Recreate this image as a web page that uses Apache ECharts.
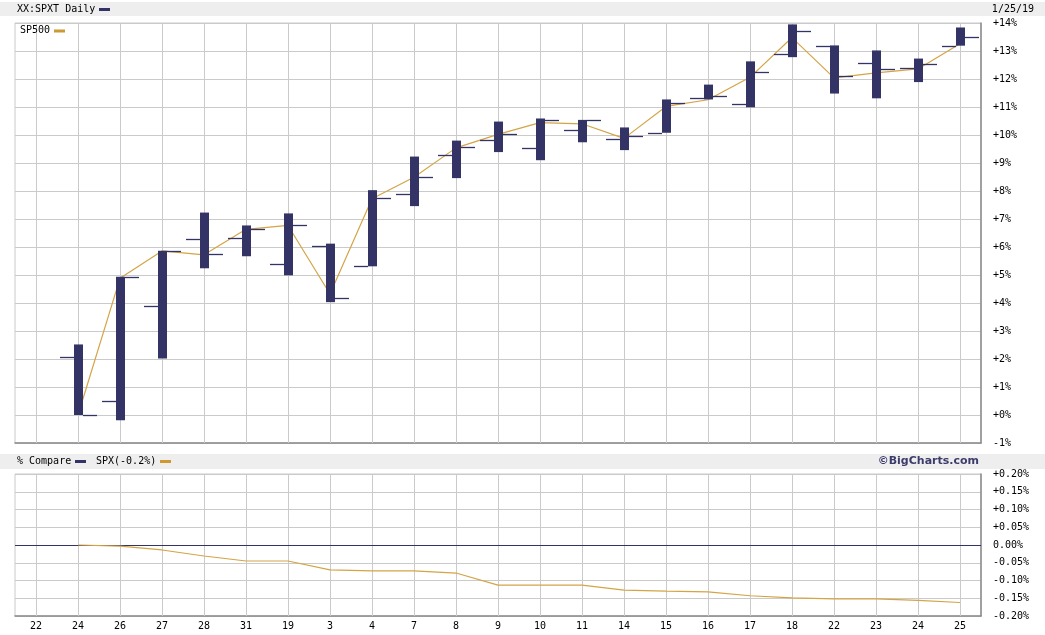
<!DOCTYPE html>
<html>
<head>
<meta charset="utf-8">
<script src="https://cdn.jsdelivr.net/npm/echarts@6/dist/echarts.min.js"></script>
<style>
html,body{margin:0;padding:0;background:#fff;}
#chart{width:1045px;height:635px;}
</style>
</head>
<body>
<div id="chart"></div>
<script>
// ---- data ----
var categories = ['22','24','26','27','28','31','19','3','4','7','8','9','10','11','14','15','16','17','18','22','23','24','25'];
var spxtOpen  = [null, 2.08, 0.51, 3.90, 6.29, 6.33, 5.40, 6.04, 5.31, 7.90, 9.29, 9.83, 9.54, 10.19, 9.86, 10.08, 11.33, 11.11, 12.90, 13.19, 12.58, 12.40, 13.19];
var spxtHigh  = [null, 2.52, 4.94, 5.87, 7.23, 6.77, 7.20, 6.12, 8.03, 9.23, 9.80, 10.48, 10.59, 10.54, 10.27, 11.27, 11.80, 12.63, 13.95, 13.20, 13.02, 12.73, 13.84];
var spxtLow   = [null, 0.00, -0.19, 2.02, 5.24, 5.67, 4.99, 4.03, 5.31, 7.46, 8.46, 9.39, 9.10, 9.74, 9.46, 10.08, 11.27, 10.99, 12.78, 11.48, 11.31, 11.89, 13.19];
var spxtClose = [null, 0.00, 4.94, 5.87, 5.76, 6.65, 6.79, 4.19, 7.76, 8.51, 9.58, 10.04, 10.54, 10.54, 9.98, 11.15, 11.40, 12.26, 13.73, 12.11, 12.36, 12.54, 13.51];
var sp500     = [null, 0.00, 4.88, 5.86, 5.72, 6.63, 6.77, 4.32, 7.72, 8.49, 9.54, 10.02, 10.44, 10.40, 9.88, 11.02, 11.26, 12.06, 13.48, 12.04, 12.22, 12.36, 13.26];
var spxCompare = [null, 0.000, -0.003, -0.014, -0.031, -0.045, -0.045, -0.070, -0.073, -0.073, -0.079, -0.113, -0.113, -0.113, -0.127, -0.130, -0.132, -0.143, -0.149, -0.152, -0.152, -0.156, -0.162];
var topAxis = {min: -1, max: 14, interval: 1};
var botAxis = {min: -0.2, max: 0.2, interval: 0.05};

// ---- build ----
var NAVY = '#333366', GOLD = '#d4a446', GRID = '#cacaca', FRAME = '#8a8a8a';
var MONO = '"DejaVu Sans Mono", "Liberation Mono", monospace';

var ohlc = [];
for (var i = 0; i < categories.length; i++) {
  if (spxtOpen[i] == null) continue;
  ohlc.push([i, spxtOpen[i], spxtClose[i], spxtLow[i], spxtHigh[i]]);
}
var gridMarks = categories.map(function(c, i){ return {xAxis: i}; });
var emptyData = categories.map(function(){ return null; });

function topFmt(v){
  var r = Math.round(v);
  return (r < 0 ? '-' : '+') + Math.abs(r) + '%';
}
function botFmt(v){
  if (Math.abs(v) < 1e-9) return '0.00%';
  return (v > 0 ? '+' : '-') + Math.abs(v).toFixed(2) + '%';
}

var chart = echarts.init(document.getElementById('chart'), null, {renderer: 'canvas'});
var option = {
  animation: false,
  backgroundColor: '#ffffff',
  grid: [
    {left: 15, top: 23, width: 966, height: 420, show: true, borderColor: GRID, borderWidth: 1, backgroundColor: '#fff'},
    {left: 15, top: 474, width: 966, height: 142, show: true, borderColor: GRID, borderWidth: 1, backgroundColor: '#fff'}
  ],
  xAxis: [
    {type: 'category', gridIndex: 0, data: categories, boundaryGap: true,
     axisLine: {show: true, onZero: false, lineStyle: {color: FRAME, width: 1.5}},
     axisTick: {show: false}, axisLabel: {show: false}, splitLine: {show: false}},
    {type: 'category', gridIndex: 1, data: categories, boundaryGap: true,
     axisLine: {show: true, onZero: false, lineStyle: {color: FRAME, width: 1.5}},
     axisTick: {show: false},
     axisLabel: {show: true, margin: 5, color: '#000', fontFamily: MONO, fontSize: 10},
     splitLine: {show: false}}
  ],
  yAxis: [
    {type: 'value', gridIndex: 0, position: 'right', min: topAxis.min, max: topAxis.max, interval: topAxis.interval,
     axisLine: {show: true, onZero: false, lineStyle: {color: FRAME, width: 1.5}},
     axisTick: {show: false},
     axisLabel: {margin: 12, color: '#000', fontFamily: MONO, fontSize: 10, formatter: topFmt},
     splitLine: {show: true, lineStyle: {color: GRID, width: 1}}},
    {type: 'value', gridIndex: 1, position: 'right', min: botAxis.min, max: botAxis.max, interval: botAxis.interval,
     axisLine: {show: true, onZero: false, lineStyle: {color: FRAME, width: 1.5}},
     axisTick: {show: false},
     axisLabel: {margin: 12, color: '#000', fontFamily: MONO, fontSize: 10, formatter: botFmt},
     splitLine: {show: true, lineStyle: {color: GRID, width: 1}}}
  ],
  series: [
    {type: 'line', xAxisIndex: 0, yAxisIndex: 0, data: emptyData, silent: true, z: 1, symbol: 'none',
     markLine: {silent: true, z: 1, symbol: 'none', label: {show: false}, lineStyle: {color: GRID, width: 1, type: 'solid'}, data: gridMarks}},
    {type: 'line', xAxisIndex: 1, yAxisIndex: 1, data: emptyData, silent: true, z: 1, symbol: 'none',
     markLine: {silent: true, z: 1, symbol: 'none', label: {show: false}, lineStyle: {color: GRID, width: 1, type: 'solid'}, data: gridMarks}},
    {type: 'line', name: 'SP500', xAxisIndex: 0, yAxisIndex: 0, data: sp500, z: 3, symbol: 'none',
     lineStyle: {color: GOLD, width: 1.2}},
    {type: 'custom', name: 'XX:SPXT', xAxisIndex: 0, yAxisIndex: 0, z: 4, data: ohlc,
     encode: {x: 0, y: [1, 2, 3, 4]},
     renderItem: function(params, api){
       var idx = api.value(0);
       var x = Math.round(api.coord([idx, 0])[0]);
       var yo = Math.round(api.coord([idx, api.value(1)])[1]) + 0.5;
       var yc = Math.round(api.coord([idx, api.value(2)])[1]) + 0.5;
       var yl = api.coord([idx, api.value(3)])[1];
       var yh = api.coord([idx, api.value(4)])[1];
       var st = {stroke: NAVY, lineWidth: 1.3};
       return {type: 'group', children: [
         {type: 'rect', shape: {x: x - 4, y: yh, width: 9, height: Math.max(1, yl - yh)}, style: {fill: NAVY}},
         {type: 'line', shape: {x1: x - 18, y1: yo, x2: x - 4, y2: yo}, style: st},
         {type: 'line', shape: {x1: x + 5, y1: yc, x2: x + 19, y2: yc}, style: st}
       ]};
     }},
    {type: 'line', name: 'SPX', xAxisIndex: 1, yAxisIndex: 1, data: spxCompare, z: 3, symbol: 'none',
     lineStyle: {color: GOLD, width: 1.2},
     markLine: {silent: true, z: 2, symbol: 'none', label: {show: false}, lineStyle: {color: NAVY, width: 1.2, type: 'solid'}, data: [{yAxis: 0}]}}
  ],
  graphic: [
    {type: 'rect', left: 0, top: 2, shape: {width: 1045, height: 14}, style: {fill: '#eeeeee'}, z: 0},
    {type: 'text', x: 17, y: 9.5, style: {text: 'XX:SPXT Daily', font: '10px ' + MONO, fill: '#000', verticalAlign: 'middle'}},
    {type: 'rect', x: 99, y: 8, shape: {width: 11, height: 3}, style: {fill: NAVY}},
    {type: 'text', x: 1034, y: 9.5, style: {text: '1/25/19', font: '10px ' + MONO, fill: '#000', align: 'right', verticalAlign: 'middle'}},
    {type: 'text', x: 20, y: 30.5, z: 10, style: {text: 'SP500', font: '10px ' + MONO, fill: '#000', verticalAlign: 'middle'}},
    {type: 'rect', x: 54, y: 29.5, z: 10, shape: {width: 11, height: 3}, style: {fill: '#cc9933'}},
    {type: 'rect', left: 0, top: 454, shape: {width: 1045, height: 15}, style: {fill: '#eeeeee'}, z: 0},
    {type: 'text', x: 17, y: 461.5, style: {text: '% Compare', font: '10px ' + MONO, fill: '#000', verticalAlign: 'middle'}},
    {type: 'rect', x: 75, y: 460, shape: {width: 11, height: 3}, style: {fill: NAVY}},
    {type: 'text', x: 96, y: 461.5, style: {text: 'SPX(-0.2%)', font: '10px ' + MONO, fill: '#000', verticalAlign: 'middle'}},
    {type: 'rect', x: 160, y: 460, shape: {width: 11, height: 3}, style: {fill: '#cc9933'}},
    {type: 'text', x: 979, y: 461.5, style: {text: '\u00A9BigCharts.com', font: 'bold 11px "DejaVu Sans", Verdana, sans-serif', fill: '#3c3c6c', align: 'right', verticalAlign: 'middle'}}
  ]
};
chart.setOption(option);
</script>
</body>
</html>
